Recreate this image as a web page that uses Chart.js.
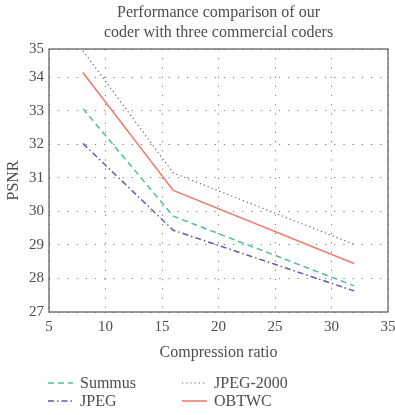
<!DOCTYPE html>
<html>
<head>
<meta charset="utf-8">
<script src="https://cdn.jsdelivr.net/npm/chart.js@4"></script>
<style>
  body { margin: 0; background: #fff; }
</style>
</head>
<body>
<canvas id="chart" width="395" height="415"></canvas>
<script>
const titleLines = ['Performance comparison of our', 'coder with three commercial coders']
const ratios = [8, 16, 32]
const summus = [33.07, 29.86, 27.78]
const jpeg2000 = [34.8, 31.15, 29.02]
const jpeg = [32.03, 29.44, 27.63]
const obtwc = [34.15, 30.63, 28.45]

const textColor = '#4d4d4d'
const serif = '"Liberation Serif", "DejaVu Serif", serif'

function points(values) {
    return ratios.map((r, i) => ({ x: r, y: values[i] }))
}

function series(label, values, color, dash, width) {
    return {
        label: label,
        data: points(values),
        borderColor: color,
        borderWidth: width,
        borderDash: dash,
        pointRadius: 0,
        fill: false,
        tension: 0
    }
}

// frame, title and the two-column legend
const decor = {
    id: 'decor',
    afterDraw(chart) {
        const { ctx, chartArea: a } = chart
        ctx.save()
        ctx.setLineDash([])
        ctx.strokeStyle = '#555'
        ctx.lineWidth = 1.2
        ctx.strokeRect(a.left, a.top, a.right - a.left, a.bottom - a.top)

        ctx.fillStyle = textColor
        ctx.font = '16px ' + serif
        ctx.textAlign = 'center'
        ctx.textBaseline = 'middle'
        const cx = (a.left + a.right) / 2
        titleLines.forEach((t, i) => ctx.fillText(t, cx, 13 + i * 20))

        ctx.textAlign = 'left'
        chart.data.datasets.forEach((ds, i) => {
            const x = 48 + (i % 2) * 134
            const y = 383 + Math.floor(i / 2) * 18
            ctx.strokeStyle = ds.borderColor
            ctx.lineWidth = ds.borderWidth
            ctx.setLineDash(ds.borderDash)
            ctx.beginPath()
            ctx.moveTo(x, y)
            ctx.lineTo(x + 25, y)
            ctx.stroke()
            ctx.setLineDash([])
            ctx.fillStyle = textColor
            ctx.fillText(ds.label, x + 32, y + 1)
        })
        ctx.restore()
    }
}

const gridStyle = {
    color: '#777',
    lineWidth: 1,
    drawTicks: false
}

new Chart(document.getElementById('chart'), {
    type: 'line',
    data: {
        datasets: [
            series('Summus', summus, '#52c08e', [6, 4], 1.5),
            series('JPEG-2000', jpeg2000, '#666666', [1.2, 3], 1.2),
            series('JPEG', jpeg, '#5a5ab8', [6, 3, 1.5, 3], 1.5),
            series('OBTWC', obtwc, '#f07a6e', [], 1.6)
        ]
    },
    options: {
        responsive: false,
        animation: false,
        layout: { padding: { left: 0, right: 7, top: 49, bottom: 49 } },
        plugins: {
            legend: { display: false },
            title: { display: false },
            tooltip: { enabled: false }
        },
        scales: {
            x: {
                type: 'linear',
                min: 5,
                max: 35,
                ticks: { stepSize: 5, padding: 6, color: textColor, font: { family: serif, size: 15 } },
                grid: gridStyle,
                border: { display: false, dash: [1.2, 8] },
                title: { display: true, text: 'Compression ratio', color: textColor, font: { family: serif, size: 16 } },
                afterFit: scale => {
                    scale.height = 54
                    scale.paddingLeft = 0
                    scale.paddingRight = 0
                }
            },
            y: {
                min: 27,
                max: 34.85,
                ticks: {
                    stepSize: 1,
                    padding: 5,
                    color: textColor,
                    font: { family: serif, size: 15 },
                    callback: v => (v > 34.5 ? '35' : v)
                },
                grid: gridStyle,
                border: { display: false, dash: [1.2, 8] },
                title: { display: true, text: 'PSNR', color: textColor, font: { family: serif, size: 16 } },
                afterFit: scale => {
                    scale.width = 49
                    scale.paddingTop = 0
                    scale.paddingBottom = 0
                }
            }
        }
    },
    plugins: [decor]
})
</script>
</body>
</html>
